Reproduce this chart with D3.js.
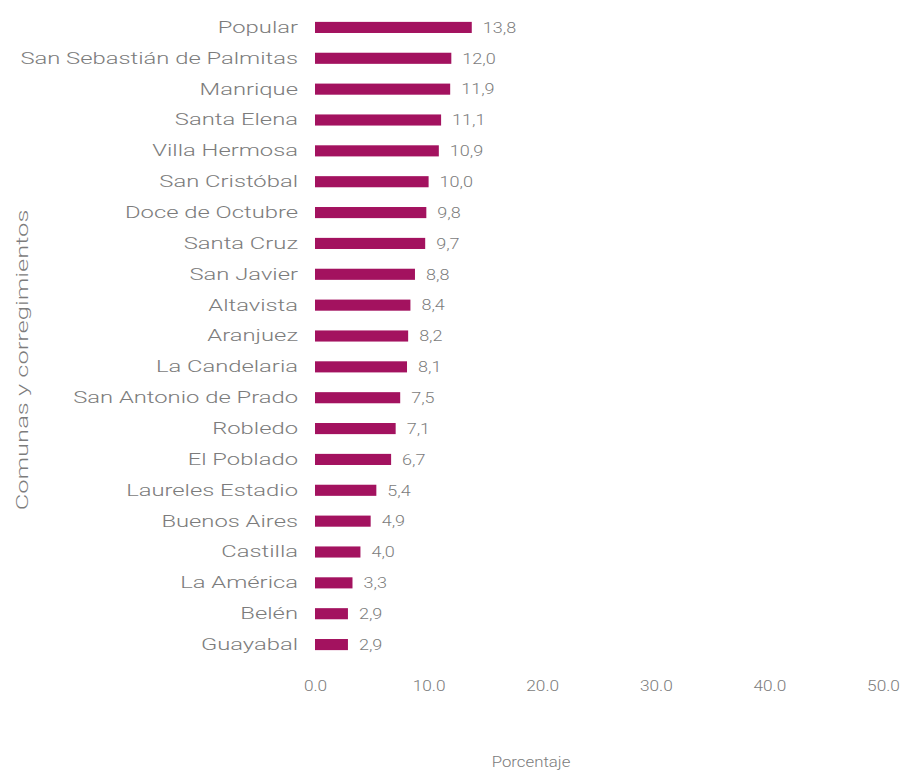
<!DOCTYPE html>
<html><head><meta charset="utf-8">
<script src="https://cdn.jsdelivr.net/npm/d3@7"></script>
<style>body{margin:0;background:#fff}text{font-family:Roboto,"Liberation Sans",sans-serif}</style>
</head><body><svg id="c" width="906" height="773"></svg>
<script>
const categories = ["Popular","San Sebastián de Palmitas","Manrique","Santa Elena","Villa Hermosa","San Cristóbal","Doce de Octubre","Santa Cruz","San Javier","Altavista","Aranjuez","La Candelaria","San Antonio de Prado","Robledo","El Poblado","Laureles Estadio","Buenos Aires","Castilla","La América","Belén","Guayabal"];
const values = [13.8,12.0,11.9,11.1,10.9,10.0,9.8,9.7,8.8,8.4,8.2,8.1,7.5,7.1,6.7,5.4,4.9,4.0,3.3,2.9,2.9];
const xTicks = [0,10,20,30,40,50];
const xTitle = "Porcentaje";
const yTitle = "Comunas y corregimientos";

const svg = d3.select("#c");
const x = d3.scaleLinear().domain([0,50]).range([315,883]);
const y = d3.scaleBand().domain(categories).range([12,660]).paddingInner(0.64).paddingOuter(0.32);
const txt = "#7c7c7c";

svg.append("g").selectAll("rect").data(values).join("rect")
  .attr("x", x(0)).attr("y", (d,i)=>y(categories[i]))
  .attr("width", d=>x(d)-x(0)).attr("height", y.bandwidth())
  .attr("fill", "#a3125f");

svg.append("g").selectAll("text").data(values).join("text")
  .attr("transform",(d,i)=>`translate(${x(d)+11},${y(categories[i])+y.bandwidth()/2}) scale(1.2,1)`)
  .attr("dy","0.35em").attr("font-size",15).attr("font-weight",300).attr("fill",txt)
  .text(d=>d.toFixed(1).replace(".",","));

const ya = svg.append("g").attr("transform","translate(298,0)")
  .call(d3.axisLeft(y).tickSize(0).tickPadding(0));
ya.select(".domain").remove();
ya.selectAll("text").attr("x",0).attr("transform","scale(1.4,1)")
  .attr("font-size",17).attr("font-weight",300).attr("fill",txt).attr("font-family",null);

const xa = svg.append("g").attr("transform","translate(0,680)")
  .call(d3.axisBottom(x).tickValues(xTicks).tickSize(0).tickPadding(0).tickFormat(d3.format(".1f")));
xa.select(".domain").remove();
xa.selectAll("text").attr("y",0).attr("dy","0.71em").attr("transform","scale(1.15,1)")
  .attr("font-size",15).attr("font-weight",300).attr("fill",txt).attr("font-family",null);

svg.append("text").attr("transform","translate(531,767) scale(1.2,1)").attr("text-anchor","middle")
  .attr("font-size",14).attr("font-weight",300).attr("fill",txt).text(xTitle);
svg.append("text").attr("transform","translate(28,360) rotate(-90) scale(1.5,1)").attr("text-anchor","middle")
  .attr("font-size",17).attr("font-weight",300).attr("fill",txt).text(yTitle);
</script></body></html>
